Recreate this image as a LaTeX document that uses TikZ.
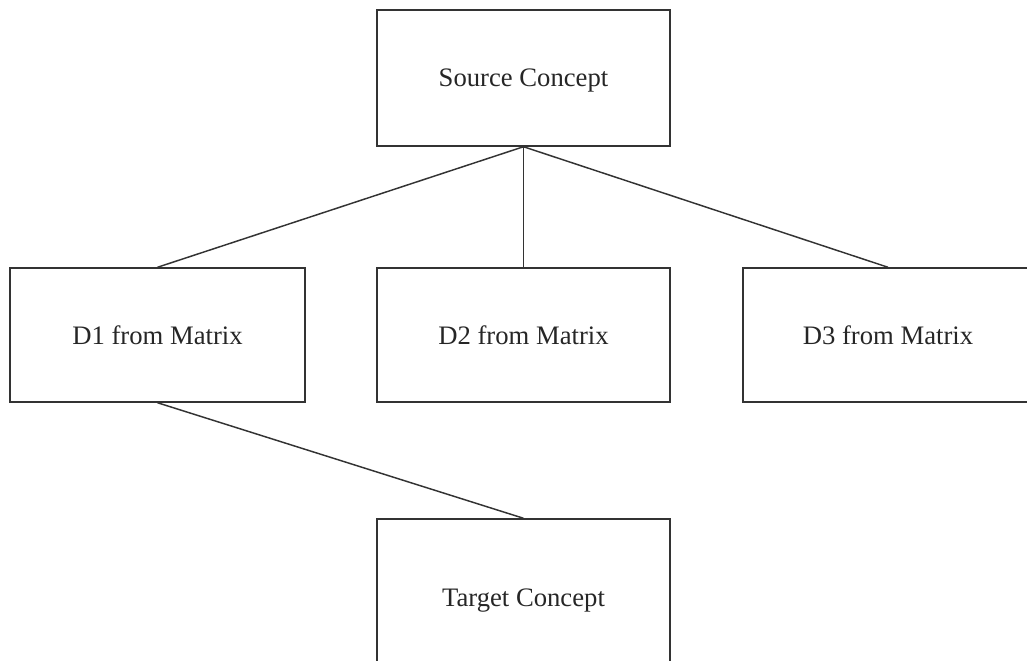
\documentclass[tikz,border=0pt]{standalone}
\usepackage{fontspec}
\setmainfont{Liberation Serif}
\begin{document}
\begin{tikzpicture}[x=0.75pt,y=-0.75pt,
  box/.style={draw=black!80,line width=1.1pt,minimum width=293*0.75pt,minimum height=134*0.75pt,inner sep=0pt,text depth=0pt,font=\fontsize{20}{22}\selectfont,text=black!85},
  link/.style={draw=black!80,line width=1.1pt}]
\useasboundingbox (0,0) rectangle (1027,660);
\clip (0,0) rectangle (1027,660);
\node[box,minimum height=136*0.75pt] (src) at (523.5,78) {Source Concept};
\node[box,minimum width=295*0.75pt] (d1) at (157.5,335) {D1 from Matrix};
\node[box] (d2) at (523.5,335) {D2 from Matrix};
\node[box,minimum width=290*0.75pt] (d3) at (888,335) {D3 from Matrix};
\node[box,minimum height=150*0.75pt] (tgt) at (523.5,594) {};
\node[font=\fontsize{20}{22}\selectfont,text=black!85,text depth=0pt] (tgtlabel) at (523.5,598) {Target Concept};
\draw[link] (src.south) -- (d1.north);
\draw[link] (src.south) -- (d2.north);
\draw[link] (src.south) -- (d3.north);
\draw[link] (d1.south) -- (tgt.north);
\end{tikzpicture}
\end{document}
